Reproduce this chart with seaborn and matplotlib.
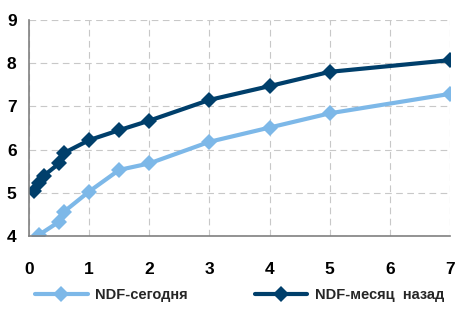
import numpy as np
import pandas as pd
import matplotlib
matplotlib.use("Agg")
import matplotlib.pyplot as plt
import seaborn as sns

# tenor in years
x_today = [0.08, 0.17, 0.5, 0.58, 1, 1.5, 2, 3, 4, 5, 7]
y_today = [3.85, 4.03, 4.33, 4.56, 5.03, 5.53, 5.68, 6.18, 6.51, 6.84, 7.29]
x_month = [0.08, 0.17, 0.25, 0.5, 0.58, 1, 1.5, 2, 3, 4, 5, 7]
y_month = [5.05, 5.22, 5.4, 5.68, 5.92, 6.22, 6.45, 6.67, 7.15, 7.47, 7.8, 8.07]
labels = ["NDF-сегодня", "NDF-месяц  назад"]
colors = ["#7DB8E8", "#003F6B"]

df = pd.concat([
    pd.DataFrame({"x": x_today, "y": y_today, "s": labels[0]}),
    pd.DataFrame({"x": x_month, "y": y_month, "s": labels[1]}),
])

sns.set_style("white")
plt.rcParams['font.family'] = ['Liberation Sans', 'DejaVu Sans']
plt.rcParams['font.weight'] = 'bold'

fig = plt.figure(figsize=(4.73, 3.11), dpi=100)
ax = fig.add_axes([29 / 473, 1 - 236 / 311, 421 / 473, 216 / 311])

sns.lineplot(data=df, x="x", y="y", hue="s", palette=colors, marker="D",
             markersize=8, markeredgewidth=0, linewidth=3, sort=False, ax=ax)

ax.set_xlim(0, 7)
ax.set_ylim(4, 9)
ax.set_xticks(range(0, 8))
ax.set_yticks(range(4, 10))
ax.set_xlabel("")
ax.set_ylabel("")
ax.grid(True, color="#C8C8C8", linestyle=(0, (6, 4)), linewidth=0.8)
for s in ["top", "right"]:
    ax.spines[s].set_visible(False)
for s in ["left", "bottom"]:
    ax.spines[s].set_color("#808080")
    ax.spines[s].set_linewidth(1.2)
ax.tick_params(axis="both", length=4, color="#444444", labelsize=12.5,
               direction="out", width=1, labelcolor="black")
ax.tick_params(axis="x", pad=15)
ax.tick_params(axis="y", pad=5)

ax.legend(loc="center", bbox_to_anchor=(0.5, (236 - 295) / 216), ncol=2,
          frameon=False, fontsize=10.5, handlelength=3.6, handletextpad=0.5,
          columnspacing=4.6, borderaxespad=0)

fig.savefig("out.png", dpi=100)
